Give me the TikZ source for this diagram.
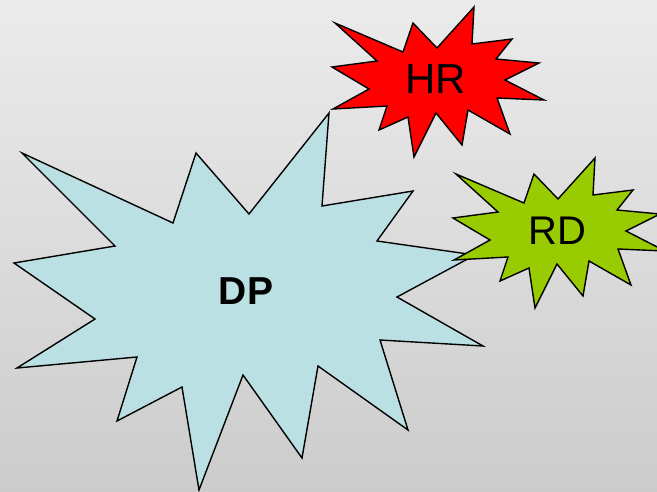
\documentclass[tikz,border=0pt]{standalone}
\usepackage{fontspec}
\setmainfont{Liberation Sans}
\begin{document}
\begin{tikzpicture}[x=1pt,y=-1pt,
  burst/.style={draw=black,line width=1.4pt,line join=miter,miter limit=20},
  lbl/.style={inner sep=0pt,text=black}]
\useasboundingbox (0,0) rectangle (657,491);
\shade[top color={rgb,255:red,235;green,235;blue,235},bottom color={rgb,255:red,204;green,204;blue,204}] (0,0) rectangle (657,491);
\begin{scope}
\clip (0,0) rectangle (657,491);
% DP
\filldraw[burst,fill={rgb,255:red,187;green,224;blue,227}]
 (22,153) -- (173,223) -- (196,153) -- (249,214) -- (329,113) -- (322,206)
 -- (413,191) -- (377,241) -- (475,255) -- (397,297) -- (483,346) -- (380,340)
 -- (408,430) -- (318,366) -- (302,458) -- (243,375) -- (199,490) -- (182,387)
 -- (117,421) -- (137,357) -- (17,368) -- (95,319) -- (14,263) -- (115,246) -- cycle;
% HR
\filldraw[burst,fill={rgb,255:red,255;green,0;blue,0}]
 (335,23) -- (403,52) -- (413,23) -- (437,48) -- (474,7) -- (472,44)
 -- (512,39) -- (496,59) -- (539,63) -- (505,80) -- (544,100) -- (497,98)
 -- (510,134) -- (468,110) -- (462,145) -- (436,113) -- (414,157) -- (408,117)
 -- (379,130) -- (387,106) -- (333,109) -- (369,89) -- (332,67) -- (377,61) -- cycle;
% RD
\begin{scope}[shift={(121,151)}]
\filldraw[burst,fill={rgb,255:red,153;green,204;blue,0}]
 (335,23) -- (403,52) -- (413,23) -- (437,48) -- (474,7) -- (472,44)
 -- (512,39) -- (496,59) -- (539,63) -- (505,80) -- (544,100) -- (497,98)
 -- (510,134) -- (468,110) -- (462,145) -- (436,113) -- (414,157) -- (408,117)
 -- (379,130) -- (387,106) -- (333,109) -- (369,89) -- (332,67) -- (377,61) -- cycle;
\end{scope}
\end{scope}
\node[lbl,font=\fontsize{39}{41}\selectfont\bfseries] (dp) at (246,291) {DP};
\node[lbl,font=\fontsize{42}{44}\selectfont] (hr) at (436,79) {HR};
\node[lbl,font=\fontsize{40}{42}\selectfont] (rd) at (557.5,231) {RD};
\end{tikzpicture}
\end{document}
